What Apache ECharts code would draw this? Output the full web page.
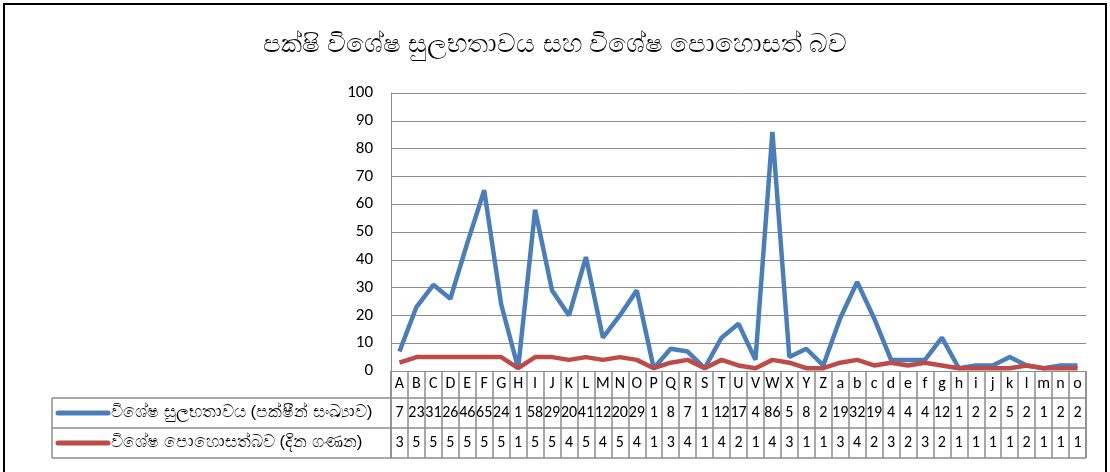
<!DOCTYPE html>
<html><head><meta charset="utf-8">
<script src="https://cdn.jsdelivr.net/npm/echarts@6/dist/echarts.min.js"></script>
<style>html,body{margin:0;padding:0;background:#fff}#c{width:1110px;height:472px}</style>
</head><body><div id="c"></div>
<script>
const title = 'පක්ෂි විශේෂ සුලභතාවය සහ විශේෂ පොහොසත් බව';
const categories = ['A','B','C','D','E','F','G','H','I','J','K','L','M','N','O','P','Q','R','S','T','U','V','W','X','Y','Z','a','b','c','d','e','f','g','h','i','j','k','l','m','n','o'];
const seriesNames = ['විශේෂ සුලභතාවය (පක්ෂීන් සංඛ්‍යාව)', 'විශේෂ පොහොසත්බව (දින ගණන)'];
const abundance = [7,23,31,26,46,65,24,1,58,29,20,41,12,20,29,1,8,7,1,12,17,4,86,5,8,2,19,32,19,4,4,4,12,1,2,2,5,2,1,2,2];
const richness = [3,5,5,5,5,5,5,1,5,5,4,5,4,5,4,1,3,4,1,4,2,1,4,3,1,1,3,4,2,3,2,3,2,1,1,1,1,2,1,1,1];
const yTicks = {min:0, max:100, interval:10};
const colors = ['#4A7EBB', '#BE4B48'];

const chart = echarts.init(document.getElementById('c'), null, {renderer:'canvas'});
const font = 'Calibri, Carlito, "Liberation Sans", "Open Sans", sans-serif';
const gridColor = '#8c8c8c';
const L = 391, R = 1086, T = 93, B = 371;
const rowH = 30, catH = 27, tblL = 52;
const valAxis = (data, offset) => ({
  type:'category', data:data.map(String), position:'bottom', offset:offset, gridIndex:0,
  axisLine:{show:false}, axisTick:{show:false}, splitLine:{show:false},
  axisLabel:{interval:0, color:'#000', fontSize:16, fontFamily:font, margin:7}
});
chart.setOption({
  animation:false,
  title:{text:title, left:'center', top:27, textStyle:{fontSize:26, fontWeight:'normal', color:'#000'}},
  grid:{left:L, right:1110-R, top:T, bottom:472-B},
  xAxis:[
    {type:'category', data:categories, boundaryGap:true, gridIndex:0,
     axisLine:{lineStyle:{color:gridColor, width:1}},
     axisTick:{show:true, interval:0, length:catH+2*rowH, lineStyle:{color:gridColor, width:1.5}},
     axisLabel:{interval:0, color:'#000', fontSize:16, fontFamily:font, margin:5}},
    valAxis(abundance, catH),
    valAxis(richness, catH+rowH)
  ],
  yAxis:{type:'value', min:yTicks.min, max:yTicks.max, interval:yTicks.interval,
    axisLine:{show:true, lineStyle:{color:gridColor}}, axisTick:{show:false},
    splitLine:{lineStyle:{color:gridColor, width:1}},
    axisLabel:{color:'#000', fontSize:17, fontFamily:font, margin:18}},
  series:[
    {name:seriesNames[0], type:'line', data:abundance, xAxisIndex:0, showSymbol:false, symbol:'none',
     lineStyle:{color:colors[0], width:4.5}, itemStyle:{color:colors[0]}},
    {name:seriesNames[1], type:'line', data:richness, xAxisIndex:0, showSymbol:false, symbol:'none',
     lineStyle:{color:colors[1], width:4.5}, itemStyle:{color:colors[1]}}
  ],
  graphic:[
    {type:'rect', shape:{x:4, y:4, width:1102, height:480}, style:{fill:'none', stroke:'#000', lineWidth:2}, silent:true},
    {type:'line', shape:{x1:tblL, y1:B+catH, x2:R, y2:B+catH}, style:{stroke:gridColor, lineWidth:1.5}},
    {type:'line', shape:{x1:tblL, y1:B+catH+rowH, x2:R, y2:B+catH+rowH}, style:{stroke:gridColor, lineWidth:1.5}},
    {type:'line', shape:{x1:tblL, y1:B+catH+2*rowH, x2:R, y2:B+catH+2*rowH}, style:{stroke:gridColor, lineWidth:1.5}},
    {type:'line', shape:{x1:tblL, y1:B+catH, x2:tblL, y2:B+catH+2*rowH}, style:{stroke:gridColor, lineWidth:1.5}},
    {type:'line', shape:{x1:L, y1:B, x2:L, y2:B+catH+2*rowH}, style:{stroke:gridColor, lineWidth:1.5}},
    {type:'line', shape:{x1:R, y1:B, x2:R, y2:B+catH+2*rowH}, style:{stroke:gridColor, lineWidth:1.5}},
    {type:'line', shape:{x1:58, y1:B+catH+rowH/2, x2:108, y2:B+catH+rowH/2}, style:{stroke:colors[0], lineWidth:5, lineCap:'round'}},
    {type:'line', shape:{x1:58, y1:B+catH+rowH*1.5, x2:108, y2:B+catH+rowH*1.5}, style:{stroke:colors[1], lineWidth:5, lineCap:'round'}},
    {type:'text', left:111, top:B+catH+6, style:{text:seriesNames[0], fontSize:17, fill:'#000'}},
    {type:'text', left:111, top:B+catH+rowH+6, style:{text:seriesNames[1], fontSize:17, fill:'#000'}}
  ]
});
</script></body></html>
